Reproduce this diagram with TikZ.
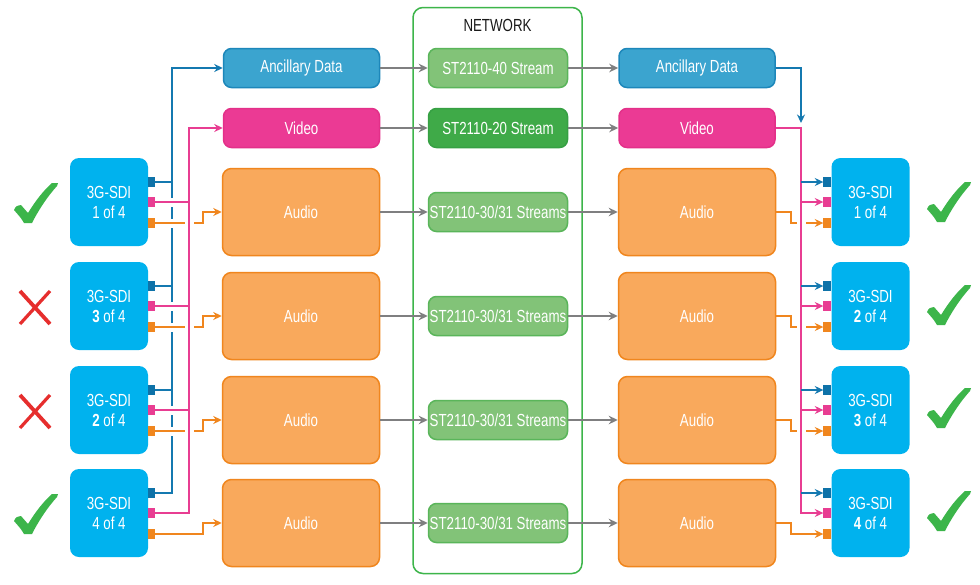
\documentclass[tikz,border=0pt]{standalone}
\usepackage{fontspec}
\setmainfont[FakeStretch=0.76]{Liberation Sans}
\usetikzlibrary{arrows.meta}
\definecolor{sdi}{HTML}{00B2EE}
\definecolor{ancfill}{HTML}{3BA4CF}
\definecolor{ancdraw}{HTML}{1D87BA}
\definecolor{bluel}{HTML}{1479B0}
\definecolor{bluesq}{HTML}{0E72A8}
\definecolor{vidfill}{HTML}{EB3A94}
\definecolor{viddraw}{HTML}{E33089}
\definecolor{pinkl}{HTML}{E83D92}
\definecolor{audfill}{HTML}{F9A95C}
\definecolor{auddraw}{HTML}{F0861E}
\definecolor{orangel}{HTML}{F0861E}
\definecolor{stlight}{HTML}{82C378}
\definecolor{stlightd}{HTML}{5AB55A}
\definecolor{stdark}{HTML}{3FAA48}
\definecolor{stdarkd}{HTML}{36A043}
\definecolor{netg}{HTML}{3DB54A}
\definecolor{grayl}{HTML}{7F7F80}
\definecolor{chkg}{HTML}{3CB54A}
\definecolor{crossr}{HTML}{E62E2D}
\tikzset{
  sdibox/.style={fill=sdi, rounded corners=9pt, minimum width=78pt, minimum height=88pt, text=white, align=center, inner sep=0pt},
  ancbox/.style={fill=ancfill, draw=ancdraw, line width=1.5pt, rounded corners=8pt, minimum width=156pt, minimum height=39pt, text=white, inner sep=0pt},
  vidbox/.style={fill=vidfill, draw=viddraw, line width=1.5pt, rounded corners=8pt, minimum width=156pt, minimum height=39pt, text=white, inner sep=0pt},
  audbox/.style={fill=audfill, draw=auddraw, line width=1.5pt, rounded corners=9pt, minimum width=157pt, minimum height=87pt, text=white, inner sep=0pt},
  stlbox/.style={fill=stlight, draw=stlightd, line width=1.5pt, rounded corners=8pt, minimum width=139pt, minimum height=39pt, text=white, inner sep=0pt},
  stdbox/.style={fill=stdark, draw=stdarkd, line width=1.5pt, rounded corners=8pt, minimum width=139pt, minimum height=39pt, text=white, inner sep=0pt},
  netbox/.style={draw=netg, line width=1.5pt, rounded corners=10pt, minimum width=169pt, minimum height=566pt},
  sqL/.style={minimum width=7pt, minimum height=10pt, inner sep=0pt, outer sep=0pt},
  sqR/.style={minimum width=8pt, minimum height=10pt, inner sep=0pt, outer sep=0pt},
  tipa/.tip={Stealth[length=8.5pt,width=8pt]},
  bline/.style={draw=bluel, line width=1.8pt},
  pline/.style={draw=pinkl, line width=1.8pt},
  oline/.style={draw=orangel, line width=1.8pt},
  garrow/.style={draw=grayl, line width=1.7pt, -{Stealth[length=9pt,width=8.5pt]}},
  halo/.style={draw=white, line width=9pt},
  chk/.pic={\fill[chkg] (-13,-12) .. controls (-11,-16) .. (-6,-17) -- (1,-9) .. controls (9,-22) and (17,-32) .. (25,-39) -- (31,-39) -- (30,-36) .. controls (20,-25) and (11,-11) .. (5,1) -- (-3,1) .. controls (-6,-4) .. (-13,-12) -- cycle;},
  crs/.pic={\draw[crossr, line width=3.8pt] (-15,-16) -- (15,17); \draw[crossr, line width=3.2pt] (15,-16) -- (-15,17);}
}
\begin{document}
\begin{tikzpicture}[x=1pt,y=-1pt,font=\fontsize{17.5}{20}\selectfont]
\useasboundingbox[fill=white] (0,0) rectangle (980,584);

% network
\node[netbox] (net) at (497.5,290.5) {};
\node[text=black!90] (netl) at (497.5,25) {NETWORK};

% top rows
\node[ancbox] (AL) at (301.5,68) {Ancillary Data};
\node[vidbox] (VL) at (301.5,128) {Video};
\node[stlbox] (S40) at (498,68) {ST2110-40 Stream};
\node[stdbox] (S20) at (498,128) {ST2110-20 Stream};
\node[ancbox] (AR) at (697,68) {Ancillary Data};
\node[vidbox] (VR) at (697,128) {Video};
\draw[garrow] (AL) -- (S40);
\draw[garrow] (S40) -- (AR);
\draw[garrow] (VL) -- (S20);
\draw[garrow] (S20) -- (VR);

% SDI boxes
\node[sdibox] (L1) at (109,202) {3G-SDI\\1 of 4};
\node[sdibox] (L2) at (109,306) {3G-SDI\\\textbf{3} of 4};
\node[sdibox] (L3) at (109,410) {3G-SDI\\\textbf{2} of 4};
\node[sdibox] (L4) at (109,513) {3G-SDI\\4 of 4};
\node[sdibox] (R1) at (870.5,202) {3G-SDI\\1 of 4};
\node[sdibox] (R2) at (870.5,306) {3G-SDI\\\textbf{2} of 4};
\node[sdibox] (R3) at (870.5,410) {3G-SDI\\\textbf{3} of 4};
\node[sdibox] (R4) at (870.5,513) {3G-SDI\\\textbf{4} of 4};

\foreach \i/\y in {1/202,2/306,3/410,4/513}{
  \node[audbox] (AuL\i) at (301,\y+10) {Audio};
  \node[stlbox] (S3\i) at (498,\y+10) {ST2110-30/31 Streams};
  \node[audbox] (AuR\i) at (697,\y+10) {Audio};
  \draw[garrow] (AuL\i) -- (S3\i);
  \draw[garrow] (S3\i) -- (AuR\i);
  \node[sqL, fill=bluesq] (LbB\i) at ([xshift=3.5pt,yshift=20pt]L\i.east) {};
  \node[sqL, fill=pinkl] (LbP\i) at ([xshift=3.5pt]L\i.east) {};
  \node[sqL, fill=orangel] (LbO\i) at ([xshift=3.5pt,yshift=-21pt]L\i.east) {};
  \node[sqR, fill=bluesq] (RbB\i) at ([xshift=-4pt,yshift=20pt]R\i.west) {};
  \node[sqR, fill=pinkl] (RbP\i) at ([xshift=-4pt]R\i.west) {};
  \node[sqR, fill=orangel] (RbO\i) at ([xshift=-4pt,yshift=-21pt]R\i.west) {};
}

% bus coordinates
\coordinate (blx) at (172,0);
\coordinate (plx) at (189,0);
\coordinate (olx) at (203,0);
\coordinate (prx) at (801,0);
\coordinate (orx) at (791,0);
\coordinate (bend) at (801,123);

% left side
\draw[bline,-tipa] (LbB4.east) -| (blx |- AL.west) -- (AL.west);
\foreach \i in {1,2,3}{\draw[bline] (LbB\i.east) -- (blx |- LbB\i.east);}
\foreach \i in {1,2,3,4}{
  \draw[halo] (LbO\i.east) -- (olx |- LbO\i.east);
  \draw[oline,-tipa] (LbO\i.east) -- (olx |- LbO\i.east) |- (AuL\i.west);
}
\foreach \i in {1,2,3}{\draw[halo] (LbP\i.east) -- (plx |- LbP\i.east);}
\draw[halo] (plx |- VL.west) -- (plx |- LbP4.east);
\draw[pline,-tipa] (LbP4.east) -| (plx |- VL.west) -- (VL.west);
\foreach \i in {1,2,3}{\draw[pline] (LbP\i.east) -- (plx |- LbP\i.east);}

% right side
\draw[bline,-tipa] (AR.east) -| (bend);
\foreach \i in {1,2,3,4}{
  \draw[oline,-tipa] (AuR\i.east) -- (orx |- AuR\i.east) |- (RbO\i.west);
}
\draw[halo] (prx |- VR.east) -- (prx |- RbP4.west);
\draw[pline,-tipa] (VR.east) -| (prx |- RbP4.west) -- (RbP4.west);
\foreach \i in {1,2,3}{\draw[pline,-tipa] (prx |- RbP\i.west) -- (RbP\i.west);}
\foreach \i in {1,2,3,4}{\draw[bline,-tipa] (prx |- RbB\i.west) -- (RbB\i.west);}

% marks
\pic at (27,222) {chk};
\pic at (27,533) {chk};
\pic at (35,307) {crs};
\pic at (35,411) {crs};
\pic at (940,221) {chk};
\pic at (940,324) {chk};
\pic at (940,427) {chk};
\pic at (940,530) {chk};
\end{tikzpicture}
\end{document}
